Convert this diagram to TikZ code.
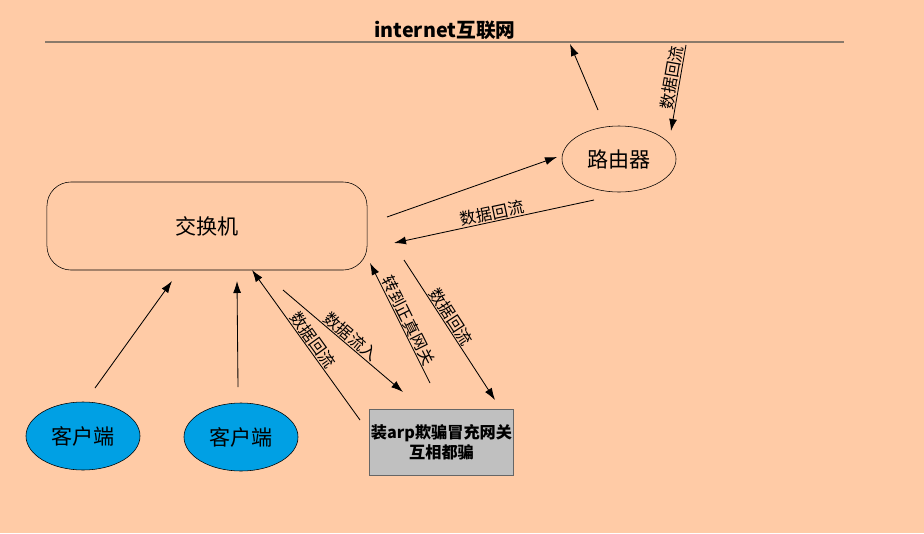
\documentclass[tikz,border=0pt]{standalone}
\usepackage{fontspec}
\setmainfont{Noto Sans CJK SC}
\usetikzlibrary{arrows.meta,shapes.geometric}
\definecolor{peach}{HTML}{FFCBA6}
\definecolor{sky}{HTML}{00A0E4}
\definecolor{stone}{HTML}{C0C0C0}
\definecolor{rule}{HTML}{8A7A6A}
\tikzset{hub/.style={draw,rounded corners=6mm,minimum width=8cm,minimum height=2.2cm,font=\fontsize{15}{17}\selectfont},oval/.style={draw,ellipse,minimum width=2.85cm,minimum height=1.65cm,inner sep=0pt,font=\fontsize{15}{17}\selectfont},client/.style={oval,fill=sky,minimum height=1.7cm},flow/.style={-{Latex[length=3mm,width=2mm]},line width=0.6pt},tag/.style={sloped,above,inner sep=0.5pt,font=\fontsize{11.5}{13}\selectfont}}

\begin{document}
\begin{tikzpicture}[x=0.025cm,y=-0.025cm]
\fill[peach] (0,0) rectangle (924,533);
\useasboundingbox (0,0) rectangle (924,533);
\draw[rule,line width=1.2pt] (45,42) -- (844,42);
\node[font=\bfseries\fontsize{14}{16}\selectfont,inner sep=1pt] (net) at (445,30) {internet互联网};
\node[oval] (router) at (619,159) {路由器};
\node[hub] (switch) at (207,226) {交换机};
\node[client] (clientA) at (83,436) {客户端};
\node[client] (clientB) at (241,437) {客户端};
\node[draw=black!60,fill=stone,minimum width=3.525cm,minimum height=1.65cm,align=center,font=\bfseries\fontsize{11.5}{14}\selectfont,inner sep=1pt] (spoof) at (441.5,442) {装arp欺骗冒充网关\\互相都骗};
% free ends of the connectors
\coordinate (upA) at (598,110); \coordinate (upB) at (570,44);
\coordinate (dnA) at (686,45); \coordinate (dnB) at (671,131);
\coordinate (toR1) at (387,217); \coordinate (toR2) at (557,157);
\coordinate (fromR1) at (594,200); \coordinate (fromR2) at (394,243);
\coordinate (cA1) at (95,388); \coordinate (cA2) at (172,281);
\coordinate (cB1) at (238,387); \coordinate (cB2) at (237,281);
\coordinate (back1) at (360,420); \coordinate (back2) at (252,270);
\coordinate (in1) at (283,290); \coordinate (in2) at (403,392);
\coordinate (gw1) at (430,383); \coordinate (gw2) at (370,263);
\coordinate (ret1) at (404,260); \coordinate (ret2) at (495,400);
\draw[flow] (upA) -- (upB);
\draw[flow] (dnA) -- node[tag,pos=0.4] (l1) {数据回流} (dnB);
\draw[flow] (toR1) -- (toR2);
\draw[flow] (fromR1) -- node[tag,pos=0.5] (l2) {数据回流} (fromR2);
\draw[flow] (cA1) -- (cA2);
\draw[flow] (cB1) -- (cB2);
\draw[flow] (back1) -- node[tag,pos=0.5] (l3) {数据回流} (back2);
\draw[flow] (in1) -- node[tag,pos=0.52] (l4) {数据流入} (in2);
\draw[flow] (gw1) -- node[tag,pos=0.49] (l5) {转到正真网关} (gw2);
\draw[flow] (ret1) -- node[tag,pos=0.44] (l6) {数据回流} (ret2);
\end{tikzpicture}
\end{document}
